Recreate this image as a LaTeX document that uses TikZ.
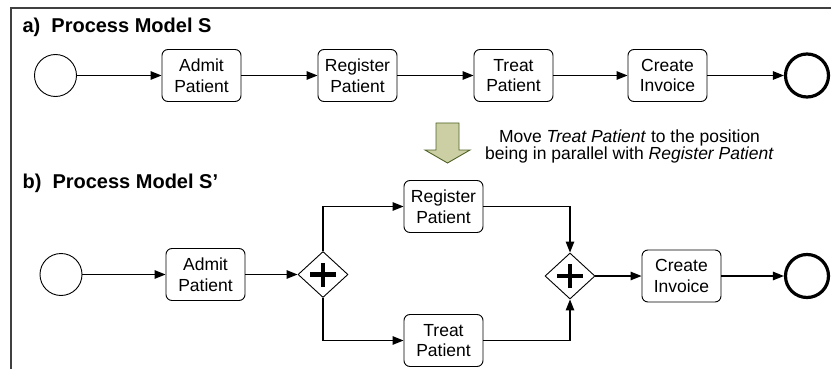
\documentclass[tikz,border=0pt]{standalone}
\usepackage{fontspec}
\setmainfont{Liberation Sans}
\usetikzlibrary{positioning}
\usetikzlibrary{arrows.meta}
\usetikzlibrary{shapes.geometric}

\tikzset{
  task/.style={draw, rounded corners=6pt, minimum width=79pt, minimum height=52pt, inner sep=0pt, align=center, font=\fontsize{17.5}{20.5}\selectfont, line width=0.9pt},
  startev/.style={draw, circle, minimum size=42pt, inner sep=0pt, line width=0.9pt},
  endev/.style={draw, circle, minimum size=43pt, inner sep=0pt, line width=3.2pt},
  andgate/.style={draw, diamond, minimum width=50pt, minimum height=46pt, inner sep=0pt, line width=0.9pt},
  flow/.style={-{Triangle[length=11pt,width=8.5pt]}, line width=1.3pt},
  title/.style={anchor=west, font=\fontsize{20}{22}\selectfont\bfseries},
}

\begin{document}
\begin{tikzpicture}[x=1pt, y=-1pt]
  \useasboundingbox (0,0) rectangle (831,369);
  % frame
  \draw[line width=1.5pt, black!75] (11,369) -- (11,8) -- (831,8);

  % a) process model S
  \node[title] (ta-title) at (19,27) {a)\ \ Process Model S};
  \node[startev] (sa) at (55.5,75.5) {};
  \node[task] (aa) at (201.5,75.5) {Admit\\Patient};
  \node[task] (ra) at (357.5,75.5) {Register\\Patient};
  \node[task] (ta) at (513.5,75.5) {Treat\\Patient};
  \node[task] (ca) at (667.5,75.5) {Create\\Invoice};
  \node[endev] (ea) at (807,75.5) {};
  \draw[flow] (sa) -- (aa);
  \draw[flow] (aa) -- (ra);
  \draw[flow] (ra) -- (ta);
  \draw[flow] (ta) -- (ca);
  \draw[flow] (ca) -- (ea);

  % change operation
  \draw[fill={rgb,255:red,203;green,207;blue,163}, draw={rgb,255:red,79;green,98;blue,40}, line width=0.9pt]
    (436,123) -- (459,123) -- (459,150) -- (470,150) -- (447.5,163) -- (425,150) -- (436,150) -- cycle;
  \node[align=center, font=\fontsize{17.5}{17}\selectfont] (move) at (629.5,146)
    {Move \textit{Treat Patient} to the position\\being in parallel with \textit{Register Patient}};

  % b) process model S'
  \node[title] (tb-title) at (19,183) {b)\ \ Process Model S'};
  \node[startev] (sb) at (61,274.5) {};
  \node[task] (ab) at (205.5,274.5) {Admit\\Patient};
  \node[andgate] (g1) at (323,274.5) {};
  \node[task] (rb) at (443.5,206.5) {Register\\Patient};
  \node[task] (tb) at (443.5,340.5) {Treat\\Patient};
  \node[andgate] (g2) at (570,276) {};
  \node[task] (cb) at (681.5,276) {Create\\Invoice};
  \node[endev] (eb) at (807,276) {};
  \foreach \g in {g1,g2}
    {\draw[line width=4.5pt] ([xshift=-13pt]\g.center) -- ([xshift=13pt]\g.center);
     \draw[line width=4.5pt] ([yshift=-12pt]\g.center) -- ([yshift=12pt]\g.center);}
  \draw[flow] (sb) -- (ab);
  \draw[flow] (ab) -- (g1);
  \draw[flow] (g1.north) |- (rb.west);
  \draw[flow] (g1.south) |- (tb.west);
  \draw[flow] (rb.east) -| (g2.north);
  \draw[flow] (tb.east) -| (g2.south);
  \draw[flow] (g2) -- (cb);
  \draw[flow] (cb) -- (eb);
\end{tikzpicture}
\end{document}
